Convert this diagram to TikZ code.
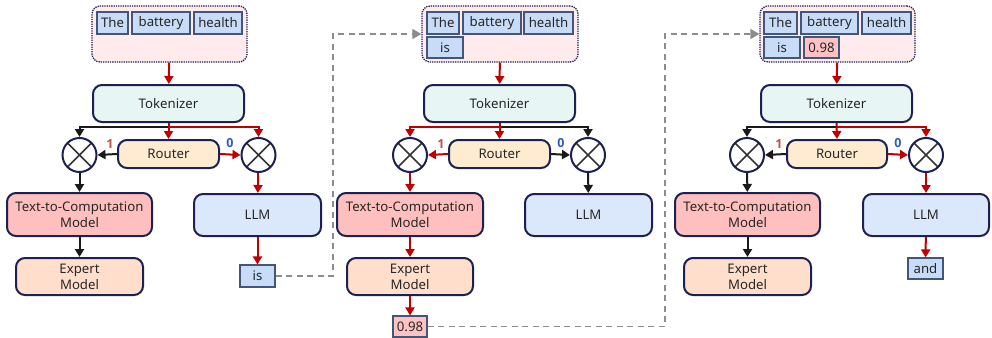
\documentclass[tikz,border=0pt]{standalone}
\usepackage{fontspec}
\setmainfont{Noto Sans}
\newfontfamily\lblfont{Open Sans}
\usetikzlibrary{arrows.meta}

\definecolor{navy}{HTML}{1B2150}
\definecolor{tokborder}{HTML}{44557A}
\definecolor{tokfill}{HTML}{C8DCF8}
\definecolor{numfill}{HTML}{FFC2C2}
\definecolor{infill}{HTML}{FFEBEB}
\definecolor{tkzfill}{HTML}{E7F6F3}
\definecolor{routerfill}{HTML}{FFEBD0}
\definecolor{tcfill}{HTML}{FFBFBF}
\definecolor{expfill}{HTML}{FFDFCB}
\definecolor{llmfill}{HTML}{DBE8FC}
\definecolor{flowred}{HTML}{C00000}
\definecolor{flowblk}{HTML}{1A1A1A}
\definecolor{loopgray}{HTML}{8C8C8C}
\definecolor{onecol}{HTML}{C0504D}
\definecolor{zerocol}{HTML}{2F5CC4}
\definecolor{txt}{HTML}{262626}

\tikzset{
  every node/.style={font=\fontsize{13.2}{16}\selectfont, text=txt},
  block/.style={draw=navy, line width=2, rounded corners=9, align=center, inner sep=0},
  inbox/.style={draw=navy, densely dotted, line width=1.3, rounded corners=8, fill=infill, inner sep=0},
  tokbox/.style={draw=tokborder, line width=1.1, fill=tokfill, inner sep=0, minimum height=22},
  numbox/.style={tokbox, fill=numfill},
  junction/.style={circle, draw=navy, line width=2, fill=white, minimum size=34, inner sep=0,
    path picture={\draw[line width=1.6, draw=black!80]
      (path picture bounding box.north west) -- (path picture bounding box.south east)
      (path picture bounding box.north east) -- (path picture bounding box.south west);}},
  redflow/.style={draw=flowred, line width=2, -{Triangle[length=8,width=9]}},
  blkflow/.style={draw=flowblk, line width=2, -{Triangle[length=8,width=9]}},
  loopback/.style={draw=loopgray, line width=1.6, dash pattern=on 6 off 4.5, -{Triangle[length=9,width=10]}},
  onelbl/.style={font=\lblfont\bfseries\fontsize{12.5}{14}\selectfont, text=onecol},
  zerolbl/.style={font=\lblfont\bfseries\fontsize{12.5}{14}\selectfont, text=zerocol},
}

\begin{document}
\begin{tikzpicture}[x=1pt, y=-1pt]
\useasboundingbox (0,0) rectangle (992,337);

% ---------------- step 1 ----------------
\node[inbox, minimum width=155, minimum height=56] (in1) at (169.5,34) {};
\node[tokbox, minimum width=31] (a1) at (112.5,23) {The};
\node[tokbox, minimum width=58] (b1) at (161,23) {battery};
\node[tokbox, minimum width=48] (c1) at (218,23) {health};
\node[block, fill=tkzfill, minimum width=151, minimum height=37] (tk1) at (168.5,103.5) {Tokenizer};
\node[block, fill=routerfill, minimum width=101, minimum height=28] (rt1) at (168.5,154) {Router};
\node[junction] (jl1) at (79.5,155) {};
\node[junction] (jr1) at (258.5,155) {};
\node[block, fill=tcfill, minimum width=145, minimum height=43] (tc1) at (79.5,214.5) {Text-to-Computation\\Model};
\node[block, fill=expfill, minimum width=127, minimum height=37] (ex1) at (79.5,276.5) {Expert\\Model};
\node[block, fill=llmfill, minimum width=127, minimum height=42] (llm1) at (257.5,215) {LLM};
\node[tokbox, minimum width=35] (o1) at (257.5,276) {is};
\coordinate (s1) at (168.5,127);

\draw[redflow] (in1) -- (tk1);
\draw[blkflow] (s1) -| (jl1.north);
\draw[redflow] (s1) -| (jr1.north);
\draw[redflow] (tk1.south) -- (rt1.north);
\draw[blkflow] (rt1.west) -- (jl1.east);
\draw[redflow] (rt1.east) -- (jr1.west);
\node[onelbl] at ([xshift=-7pt,yshift=10pt]rt1.west) {1};
\node[zerolbl] at ([xshift=10pt,yshift=11pt]rt1.east) {0};
\draw[blkflow] (jl1) -- (tc1);
\draw[blkflow] (tc1) -- (ex1);
\draw[redflow] (jr1) -- (llm1);
\draw[redflow] (llm1) -- (o1);

% ---------------- step 2 ----------------
\node[inbox, minimum width=156, minimum height=56] (in2) at (500,34) {};
\node[tokbox, minimum width=32] (a2) at (443,23) {The};
\node[tokbox, minimum width=58] (b2) at (492,23) {battery};
\node[tokbox, minimum width=49] (c2) at (548.5,23) {health};
\node[tokbox, minimum width=36, minimum height=21] (d2) at (445,47.5) {is};
\node[block, fill=tkzfill, minimum width=151, minimum height=37] (tk2) at (499.5,103.5) {Tokenizer};
\node[block, fill=routerfill, minimum width=101, minimum height=28] (rt2) at (499.5,154) {Router};
\node[junction] (jl2) at (410,155) {};
\node[junction] (jr2) at (588,155) {};
\node[block, fill=tcfill, minimum width=146, minimum height=43] (tc2) at (410,214.5) {Text-to-Computation\\Model};
\node[block, fill=expfill, minimum width=126, minimum height=37] (ex2) at (410,276.5) {Expert\\Model};
\node[block, fill=llmfill, minimum width=127, minimum height=42] (llm2) at (588.5,215) {LLM};
\node[numbox, minimum width=34, minimum height=21] (o2) at (410,326.5) {0.98};
\coordinate (s2) at (499.5,127);

\draw[redflow] (in2) -- (tk2);
\draw[blkflow] (s2) -| (jr2.north);
\draw[redflow] (s2) -| (jl2.north);
\draw[redflow] (tk2.south) -- (rt2.north);
\draw[redflow] (rt2.west) -- (jl2.east);
\draw[blkflow] (rt2.east) -- (jr2.west);
\node[onelbl] at ([xshift=-7pt,yshift=10pt]rt2.west) {1};
\node[zerolbl] at ([xshift=10pt,yshift=11pt]rt2.east) {0};
\draw[redflow] (jl2) -- (tc2);
\draw[redflow] (tc2) -- (ex2);
\draw[redflow] (ex2) -- (o2);
\draw[blkflow] (jr2) -- (llm2);

% ---------------- step 3 ----------------
\node[inbox, minimum width=155, minimum height=56] (in3) at (837.5,34) {};
\node[tokbox, minimum width=33] (a3) at (780.5,23) {The};
\node[tokbox, minimum width=57] (b3) at (829.5,23) {battery};
\node[tokbox, minimum width=49] (c3) at (886.5,23) {health};
\node[tokbox, minimum width=36, minimum height=21] (d3) at (782,47.5) {is};
\node[numbox, minimum width=35, minimum height=21] (e3) at (821.5,47.5) {0.98};
\node[block, fill=tkzfill, minimum width=151, minimum height=37] (tk3) at (836.5,103.5) {Tokenizer};
\node[block, fill=routerfill, minimum width=100, minimum height=28] (rt3) at (837,154) {Router};
\node[junction] (jl3) at (747,155) {};
\node[junction] (jr3) at (926,155) {};
\node[block, fill=tcfill, minimum width=145, minimum height=43] (tc3) at (747.5,214.5) {Text-to-Computation\\Model};
\node[block, fill=expfill, minimum width=127, minimum height=37] (ex3) at (747.5,276.5) {Expert\\Model};
\node[block, fill=llmfill, minimum width=126, minimum height=42] (llm3) at (926,215) {LLM};
\node[tokbox, minimum width=35, minimum height=21] (o3) at (925.5,268.5) {and};
\coordinate (s3) at (836.5,127);

\draw[redflow] (in3) -- (tk3);
\draw[blkflow] (s3) -| (jl3.north);
\draw[redflow] (s3) -| (jr3.north);
\draw[redflow] (tk3.south) -- (rt3.north);
\draw[blkflow] (rt3.west) -- (jl3.east);
\draw[redflow] (rt3.east) -- (jr3.west);
\node[onelbl] at ([xshift=-7pt,yshift=10pt]rt3.west) {1};
\node[zerolbl] at ([xshift=10pt,yshift=11pt]rt3.east) {0};
\draw[blkflow] (jl3) -- (tc3);
\draw[blkflow] (tc3) -- (ex3);
\draw[redflow] (jr3) -- (llm3);
\draw[redflow] (llm3) -- (o3);

% ---------------- feedback of generated tokens ----------------
\coordinate (f1) at (333,0);
\coordinate (f2) at (665,0);
\draw[loopback] (o1.east) -- (o1.east -| f1) -- (f1 |- in2.west) -- (in2.west);
\draw[loopback] (o2.east) -- (o2.east -| f2) -- (f2 |- in3.west) -- (in3.west);
\end{tikzpicture}
\end{document}
